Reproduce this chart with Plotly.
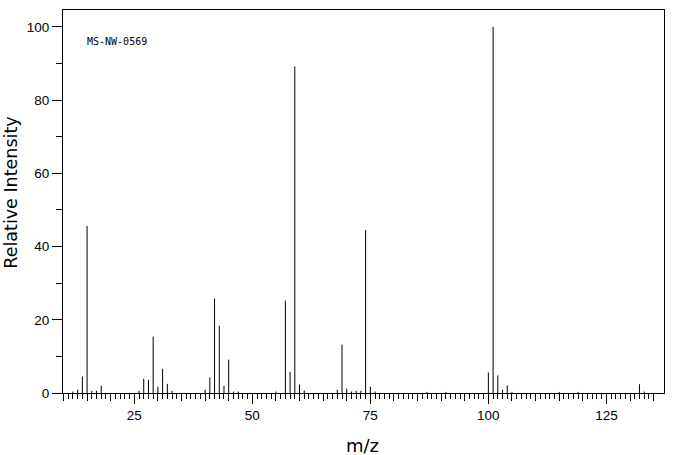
import plotly.graph_objects as go

# m/z values and relative intensities
mz = [12, 13, 14, 15, 16, 17, 18, 26, 27, 28, 29, 30, 31, 32, 33,
      40, 41, 42, 43, 44, 45, 46, 47, 55, 57, 58, 59, 60, 61,
      68, 69, 70, 71, 72, 73, 74, 75, 76, 87, 91,
      100, 101, 102, 103, 104, 105, 115, 119, 132, 133]
intensity = [0.4, 0.9, 4.5, 45.6, 0.6, 0.6, 2.0, 0.6, 3.9, 3.6, 15.4, 1.7, 6.6, 2.5, 0.6,
             0.9, 4.2, 25.8, 18.4, 2.0, 9.1, 0.4, 0.4, 0.4, 25.2, 5.8, 89.2, 2.3, 0.7,
             0.9, 13.2, 1.2, 0.4, 0.6, 0.6, 44.5, 1.7, 0.4, 0.3, 0.3,
             5.6, 100.0, 4.8, 0.9, 2.1, 0.3, 0.3, 0.3, 2.4, 0.4]

x_range = [9.9, 137.2]
y_range = [0, 104.6]
y_major = [0, 20, 40, 60, 80, 100]
x_major = [25, 50, 75, 100, 125]
x_minor = list(range(10, 136))
x_mid = list(range(10, 136, 5))
spectrum_id = "MS-NW-0569"
x_title = "m/z"
y_title = "Relative Intensity"

# build stick segments from the data
xs, ys = [], []
for m, v in zip(mz, intensity):
    xs += [m, m, None]
    ys += [0, v, None]

fig = go.Figure()
fig.add_trace(go.Scatter(x=xs, y=ys, mode="lines",
                         line=dict(color="black", width=1),
                         hoverinfo="skip", showlegend=False))
# invisible trace for the mid-tick overlay axis
fig.add_trace(go.Scatter(x=[x_range[0]], y=[0], xaxis="x2", mode="markers",
                         marker=dict(opacity=0), showlegend=False, hoverinfo="skip"))

font_main = "Liberation Sans"
font_title = "DejaVu Sans"
fig.update_layout(
    width=676, height=455,
    margin=dict(l=63, r=12, t=10, b=62, autoexpand=False),
    paper_bgcolor="white", plot_bgcolor="white",
    font=dict(family=font_main, size=13.5, color="black"),
    xaxis=dict(
        range=x_range, showgrid=False, zeroline=False, automargin=False,
        showline=True, linecolor="black", linewidth=1, mirror=True,
        tickmode="array", tickvals=x_major, ticks="outside", ticklen=10,
        tickwidth=1, tickcolor="black",
        minor=dict(tickmode="array", tickvals=x_minor, ticks="outside",
                   ticklen=5, tickwidth=1, tickcolor="black", showgrid=False),
    ),
    xaxis2=dict(
        overlaying="x", matches="x", anchor="y", side="bottom", automargin=False,
        range=x_range, showgrid=False, zeroline=False, showline=False,
        tickmode="array", tickvals=x_mid, ticks="outside", ticklen=7,
        tickwidth=1, tickcolor="black", showticklabels=False,
    ),
    yaxis=dict(
        range=y_range, showgrid=False, zeroline=False, automargin=False,
        showline=True, linecolor="black", linewidth=1, mirror=True,
        tickmode="array", tickvals=y_major, ticks="outside", ticklen=10,
        tickwidth=1, tickcolor="black",
        minor=dict(dtick=10, tick0=0, ticks="outside", ticklen=6,
                   tickwidth=1, tickcolor="black", showgrid=False),
    ),
    annotations=[
        dict(text=spectrum_id, xref="paper", yref="paper", x=0.037, y=0.919,
             xanchor="left", yanchor="middle", showarrow=False,
             font=dict(family="DejaVu Sans Mono", size=10, color="black")),
        dict(text=x_title, xref="paper", yref="paper", x=0.498, y=-0.136,
             xanchor="center", yanchor="middle", showarrow=False,
             font=dict(family=font_title, size=18, color="black")),
        dict(text=y_title, xref="paper", yref="paper", x=-0.0865, y=0.523,
             xanchor="center", yanchor="middle", showarrow=False, textangle=-90,
             font=dict(family=font_title, size=17.5, color="black")),
    ],
)

# remove the default page margin so the figure sits at the window's top-left
fig.write_html("out.html",
               config={"displayModeBar": False},
               post_script="document.body.style.margin='0';document.body.style.padding='0';")
